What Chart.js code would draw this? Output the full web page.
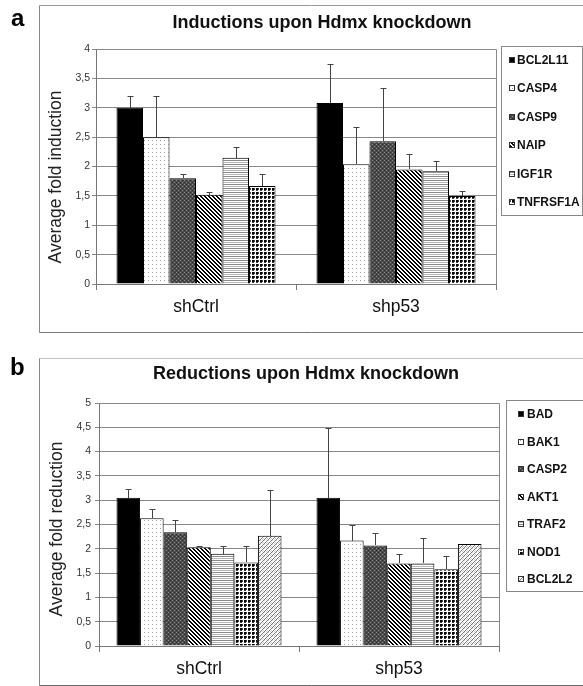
<!DOCTYPE html>
<html>
<head>
<meta charset="utf-8">
<script src="https://cdn.jsdelivr.net/npm/chart.js@4.4.1/dist/chart.umd.min.js"></script>
<style>
  html, body { margin: 0; padding: 0; background: #fff; }
  #page { position: relative; width: 583px; height: 686px; overflow: hidden; }
  canvas { position: absolute; left: 0; }
  #chartA { top: 0; }
  #chartB { top: 340px; }
</style>
</head>
<body>
<div id="page">
  <canvas id="chartA" width="583" height="340"></canvas>
  <canvas id="chartB" width="583" height="346"></canvas>
</div>
<script>
const categories = ["shCtrl", "shp53"];

// panel a: inductions
const genesA = ["BCL2L11", "CASP4", "CASP9", "NAIP", "IGF1R", "TNFRSF1A"];
const inductionCtrl = [3.0, 2.5, 1.8, 1.52, 2.15, 1.67];
const inductionCtrlErr = [0.2, 0.7, 0.08, 0.05, 0.19, 0.2];
const inductionP53 = [3.08, 2.04, 2.43, 1.95, 1.92, 1.5];
const inductionP53Err = [0.66, 0.63, 0.91, 0.27, 0.17, 0.09];

// panel b: reductions
const genesB = ["BAD", "BAK1", "CASP2", "AKT1", "TRAF2", "NOD1", "BCL2L2"];
const reductionCtrl = [3.05, 2.63, 2.34, 2.03, 1.9, 1.72, 2.27];
const reductionCtrlErr = [0.18, 0.19, 0.25, 0.02, 0.15, 0.33, 0.94];
const reductionP53 = [3.05, 2.17, 2.07, 1.7, 1.7, 1.58, 2.1];
const reductionP53Err = [1.44, 0.31, 0.25, 0.2, 0.53, 0.28, 0];

const FONT = "Arial, 'Liberation Sans', sans-serif";

function makePattern(size, paint) {
  const c = document.createElement("canvas");
  c.width = size;
  c.height = size;
  const ctx = c.getContext("2d");
  ctx.fillStyle = "#fff";
  ctx.fillRect(0, 0, size, size);
  paint(ctx);
  return c.getContext("2d").createPattern(c, "repeat");
}

function px(ctx, color, cells) {
  ctx.fillStyle = color;
  cells.forEach(([x, y, w, h]) => ctx.fillRect(x, y, w || 1, h || 1));
}

const fills = {
  solid: "#000",
  dots: makePattern(4, (ctx) => px(ctx, "#a0a0a0", [[0, 0]])),
  darkCheck: makePattern(4, (ctx) => {
    px(ctx, "#4a4a4a", [[0, 0, 4, 4]]);
    px(ctx, "#8c8c8c", [[0, 0], [2, 2]]);
    px(ctx, "#2e2e2e", [[2, 0], [0, 2]]);
  }),
  diagBack: makePattern(4, (ctx) => px(ctx, "#000", [[0, 0], [1, 0], [1, 1], [2, 1], [2, 2], [3, 2], [3, 3], [0, 3]])),
  hStripes: makePattern(4, (ctx) => {
    px(ctx, "#8a8a8a", [[0, 0, 4, 1]]);
    px(ctx, "#b8b8b8", [[0, 2, 4, 1]]);
  }),
  checkDots: makePattern(4, (ctx) => {
    px(ctx, "#000", [[0, 0, 2, 2]]);
    px(ctx, "#444", [[2, 0, 1, 2], [0, 2, 2, 1]]);
  }),
  diagFwd: makePattern(4, (ctx) => {
    px(ctx, "#7a7a7a", [[3, 0], [2, 1], [1, 2], [0, 3]]);
    px(ctx, "#d0d0d0", [[0, 0], [3, 2], [2, 3]]);
  })
};

const fillOrderA = [fills.solid, fills.dots, fills.darkCheck, fills.diagBack, fills.hStripes, fills.checkDots];
const fillOrderB = [fills.solid, fills.dots, fills.darkCheck, fills.diagBack, fills.hStripes, fills.checkDots, fills.diagFwd];

function buildDatasets(genes, ctrl, ctrlErr, p53, p53Err, fillOrder) {
  return genes.map((gene, i) => ({
    label: gene,
    data: [ctrl[i], p53[i]],
    errors: [ctrlErr[i], p53Err[i]],
    backgroundColor: fillOrder[i],
    borderColor: "#000",
    borderWidth: 1
  }));
}

const errorBars = {
  id: "errorBars",
  afterDatasetsDraw(chart) {
    const { ctx } = chart;
    const yScale = chart.scales.y;
    ctx.save();
    ctx.strokeStyle = "#444";
    ctx.lineWidth = 1;
    chart.data.datasets.forEach((ds, i) => {
      chart.getDatasetMeta(i).data.forEach((bar, j) => {
        const err = ds.errors[j];
        if (!err) return;
        const x = Math.round(bar.x) + 0.5;
        const top = Math.round(yScale.getPixelForValue(ds.data[j] + err)) + 0.5;
        ctx.beginPath();
        ctx.moveTo(x, Math.round(bar.y));
        ctx.lineTo(x, top);
        ctx.moveTo(x - 3, top);
        ctx.lineTo(x + 3, top);
        ctx.stroke();
      });
    });
    ctx.restore();
  }
};

const decor = {
  id: "decor",
  beforeDraw(chart, args, opts) {
    const { ctx } = chart;
    const f = opts.frame;
    ctx.save();
    ctx.fillStyle = "#fff";
    ctx.fillRect(0, 0, chart.width, chart.height);
    ctx.lineWidth = 1;
    ctx.strokeStyle = f.topColor;
    ctx.beginPath();
    ctx.moveTo(f.left, f.top);
    ctx.lineTo(chart.width, f.top);
    ctx.stroke();
    ctx.strokeStyle = f.sideColor;
    ctx.beginPath();
    ctx.moveTo(f.left, f.top);
    ctx.lineTo(f.left, f.bottom);
    ctx.stroke();
    ctx.strokeStyle = f.bottomColor;
    ctx.beginPath();
    ctx.moveTo(f.left, f.bottom);
    ctx.lineTo(chart.width, f.bottom);
    ctx.stroke();
    ctx.restore();
  },
  afterDraw(chart, args, opts) {
    const { ctx, chartArea } = chart;
    ctx.save();

    // plot area outline (top/right)
    ctx.strokeStyle = "#888";
    ctx.lineWidth = 1;
    ctx.beginPath();
    ctx.moveTo(chartArea.left, Math.round(chartArea.top) + 0.5);
    ctx.lineTo(Math.round(chartArea.right) + 0.5, Math.round(chartArea.top) + 0.5);
    ctx.lineTo(Math.round(chartArea.right) + 0.5, chartArea.bottom);
    ctx.stroke();

    ctx.fillStyle = "#000";
    ctx.textBaseline = "alphabetic";

    ctx.font = `bold 24px ${FONT}`;
    ctx.textAlign = "left";
    ctx.fillText(opts.letter.text, opts.letter.x, opts.letter.y);

    ctx.font = `bold 18px ${FONT}`;
    ctx.textAlign = "center";
    ctx.fillStyle = "#111";
    ctx.fillText(opts.title.text, opts.title.x, opts.title.y);

    ctx.save();
    ctx.translate(opts.yTitle.x, opts.yTitle.y);
    ctx.rotate(-Math.PI / 2);
    ctx.font = `17.5px ${FONT}`;
    ctx.fillStyle = "#222";
    ctx.fillText(opts.yTitle.text, 0, 0);
    ctx.restore();

    // legend
    const lg = opts.legend;
    ctx.strokeStyle = "#888";
    ctx.strokeRect(lg.left + 0.5, lg.top + 0.5, lg.right - lg.left, lg.bottom - lg.top);
    ctx.font = `bold 12px ${FONT}`;
    ctx.textAlign = "left";
    ctx.textBaseline = "middle";
    chart.data.datasets.forEach((ds, i) => {
      const cy = Math.round(lg.firstY + i * lg.step);
      ctx.fillStyle = ds.backgroundColor;
      ctx.fillRect(lg.markerX, cy - 3, 6, 6);
      ctx.strokeStyle = "#333";
      ctx.strokeRect(lg.markerX + 0.5, cy - 2.5, 5, 5);
      ctx.fillStyle = "#111";
      ctx.fillText(ds.label, lg.textX, cy + 1);
    });
    ctx.restore();
  }
};

function makeChart(canvasId, datasets, cfg) {
  return new Chart(document.getElementById(canvasId), {
    type: "bar",
    data: { labels: categories, datasets },
    plugins: [decor, errorBars],
    options: {
      responsive: false,
      animation: false,
      devicePixelRatio: 1,
      categoryPercentage: cfg.categoryPercentage,
      barPercentage: 1,
      layout: { padding: cfg.padding },
      plugins: {
        legend: { display: false },
        title: { display: false },
        tooltip: { enabled: false },
        decor: cfg.decor
      },
      scales: {
        x: {
          afterFit: (scale) => { scale.height = 40; },
          grid: { offset: true, drawOnChartArea: false, tickLength: 6, color: "#777" },
          border: { color: "#777" },
          ticks: { color: "#111", padding: 7, font: { family: FONT, size: 17.5 } }
        },
        y: {
          min: 0,
          max: cfg.yMax,
          afterFit: (scale) => { scale.width = 30; },
          grid: { color: "#888", tickLength: 4 },
          border: { color: "#777" },
          ticks: {
            stepSize: 0.5,
            color: "#333",
            padding: cfg.tickPadding,
            font: { family: FONT, size: 10.5 },
            callback: (v) => String(v).replace(".", ",")
          }
        }
      }
    }
  });
}

makeChart("chartA", buildDatasets(genesA, inductionCtrl, inductionCtrlErr, inductionP53, inductionP53Err, fillOrderA), {
  categoryPercentage: 0.795,
  yMax: 4,
  tickPadding: 2,
  padding: { top: 49, right: 87, left: 66, bottom: 16 },
  decor: {
    frame: { left: 39.5, top: 5.5, bottom: 332.5, topColor: "#999", sideColor: "#888", bottomColor: "#777" },
    letter: { text: "a", x: 11, y: 26 },
    title: { text: "Inductions upon Hdmx knockdown", x: 322, y: 28 },
    yTitle: { text: "Average fold induction", x: 61, y: 177 },
    legend: { left: 501, right: 582, top: 46, bottom: 215, firstY: 60, step: 28.4, markerX: 509, textX: 517 }
  }
});

makeChart("chartB", buildDatasets(genesB, reductionCtrl, reductionCtrlErr, reductionP53, reductionP53Err, fillOrderB), {
  categoryPercentage: 0.825,
  yMax: 5,
  tickPadding: 4,
  padding: { top: 63, right: 84, left: 69, bottom: 0 },
  decor: {
    frame: { left: 39.5, top: 18.5, bottom: 345.5, topColor: "#c0c0c0", sideColor: "#888", bottomColor: "#666" },
    letter: { text: "b", x: 10, y: 35 },
    title: { text: "Reductions upon Hdmx knockdown", x: 306, y: 39 },
    yTitle: { text: "Average fold reduction", x: 61.5, y: 189 },
    legend: { left: 506, right: 590, top: 60, bottom: 251, firstY: 74, step: 27.55, markerX: 518, textX: 527 }
  }
});
</script>
</body>
</html>
